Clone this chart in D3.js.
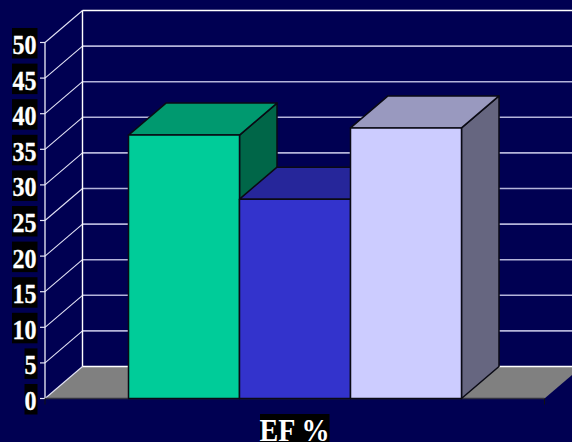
<!DOCTYPE html>
<html><head><meta charset="utf-8">
<style>html,body{margin:0;padding:0;background:#000052;overflow:hidden}svg{display:block}</style>
<script src="https://cdn.jsdelivr.net/npm/d3@7/dist/d3.min.js"></script>
</head><body><script>
const categories = ["A", "B", "C"];
const values = [37, 28, 38];
const frontColors = ["#00cc99", "#3333cc", "#ccccff"];
const topColors = ["#00996f", "#26269a", "#9999bf"];
const sideColors = ["#006648", "#1f1f80", "#666680"];
const yTicks = d3.range(0, 51, 5);
const xLabel = "EF %";

const W = 572, H = 442, DX = 37.5, DY = -32;
const svg = d3.select("body").append("svg").attr("width", W).attr("height", H);
svg.append("rect").attr("width", W).attr("height", H).attr("fill", "#000052");

const y = d3.scaleLinear().domain([0, 50]).range([398.5, 42.5]);
const x = d3.scaleBand().domain(categories).range([128.5, 461.5]).padding(0);
const floorL = 45, floorR = 544.5;
const poly = pts => pts.map(p => p.join(",")).join(" ");

// floor
svg.append("polygon")
  .attr("points", poly([[floorL, y(0)], [floorL + DX, y(0) + DY], [floorR + DX, y(0) + DY], [floorR, y(0)]]))
  .attr("fill", "#808080");

// grid: back wall horizontals, left wall diagonals
const grid = svg.append("g");
grid.selectAll(".gb").data(yTicks).join("line")
  .attr("x1", floorL + DX).attr("x2", floorR + DX)
  .attr("y1", d => y(d) + DY).attr("y2", d => y(d) + DY)
  .attr("stroke", d => (d === 0 || d === 50) ? "#ffffff" : "#b4b4da").attr("stroke-width", 1.6);
grid.selectAll(".gd").data(yTicks).join("line")
  .attr("x1", floorL).attr("x2", floorL + DX)
  .attr("y1", d => y(d)).attr("y2", d => y(d) + DY)
  .attr("stroke", "#e4e4f6").attr("stroke-width", 1.1);
grid.append("line").attr("x1", floorL).attr("x2", floorL).attr("y1", y(0)).attr("y2", y(50)).attr("stroke", "#f0f0fa").attr("stroke-width", 1.3);
grid.append("line").attr("x1", floorL + DX).attr("x2", floorL + DX).attr("y1", y(0) + DY).attr("y2", y(50) + DY).attr("stroke", "#ffffff").attr("stroke-width", 1.4);
grid.selectAll(".tk").data(yTicks).join("line")
  .attr("x1", floorL - 5).attr("x2", floorL)
  .attr("y1", d => y(d)).attr("y2", d => y(d))
  .attr("stroke", "#e4e4f6").attr("stroke-width", 1.2);

// floor front edge and tick marks
svg.append("line").attr("x1", floorL).attr("x2", floorR).attr("y1", y(0)).attr("y2", y(0)).attr("stroke", "#333340").attr("stroke-width", 1.4);
svg.selectAll(".xt").data([floorL, floorR]).join("line")
  .attr("x1", d => d).attr("x2", d => d).attr("y1", y(0)).attr("y2", y(0) + 6)
  .attr("stroke", "#111");

// bars
const bars = svg.append("g").selectAll("g").data(categories).join("g")
  .attr("stroke", "#0a0a14").attr("stroke-width", 1.5).attr("stroke-linejoin", "round");
bars.append("polygon").attr("fill", (d, i) => sideColors[i])
  .attr("points", (d, i) => { const r = x(d) + x.bandwidth(), t = y(values[i]), b = y(0);
    return poly([[r, t], [r + DX, t + DY], [r + DX, b + DY], [r, b]]); });
bars.append("polygon").attr("fill", (d, i) => topColors[i])
  .attr("points", (d, i) => { const l = x(d), r = l + x.bandwidth(), t = y(values[i]);
    return poly([[l, t], [l + DX, t + DY], [r + DX, t + DY], [r, t]]); });
bars.append("rect").attr("fill", (d, i) => frontColors[i])
  .attr("x", d => x(d)).attr("width", x.bandwidth())
  .attr("y", (d, i) => y(values[i])).attr("height", (d, i) => y(0) - y(values[i]));

// tick labels on black boxes, glyphs stretched tall as in the reference
const font = "'Liberation Serif','Times New Roman',serif";
const lab = svg.append("g");
yTicks.forEach(d => {
  const w = d < 10 ? 13 : 25.5;
  lab.append("rect").attr("x", 37.5 - w).attr("y", y(d) - 14.5).attr("width", w).attr("height", 30.5).attr("fill", "#000");
  lab.append("text").attr("transform", `translate(36.5,${y(d) + 11.5}) scale(1,1.17)`).attr("text-anchor", "end")
    .attr("font-family", font).attr("font-weight", 700).attr("font-size", 24).attr("fill", "#fff")
    .attr("stroke", "#fff").attr("stroke-width", 0.25).text(d);
});
lab.append("rect").attr("x", 260).attr("y", 414).attr("width", 69.5).attr("height", 28).attr("fill", "#000");
lab.append("text").attr("transform", "translate(294.5,441) scale(1.04,1.15)").attr("text-anchor", "middle")
  .attr("font-family", font).attr("font-weight", 700).attr("font-size", 27).attr("fill", "#fff").text(xLabel);
</script></body></html>
